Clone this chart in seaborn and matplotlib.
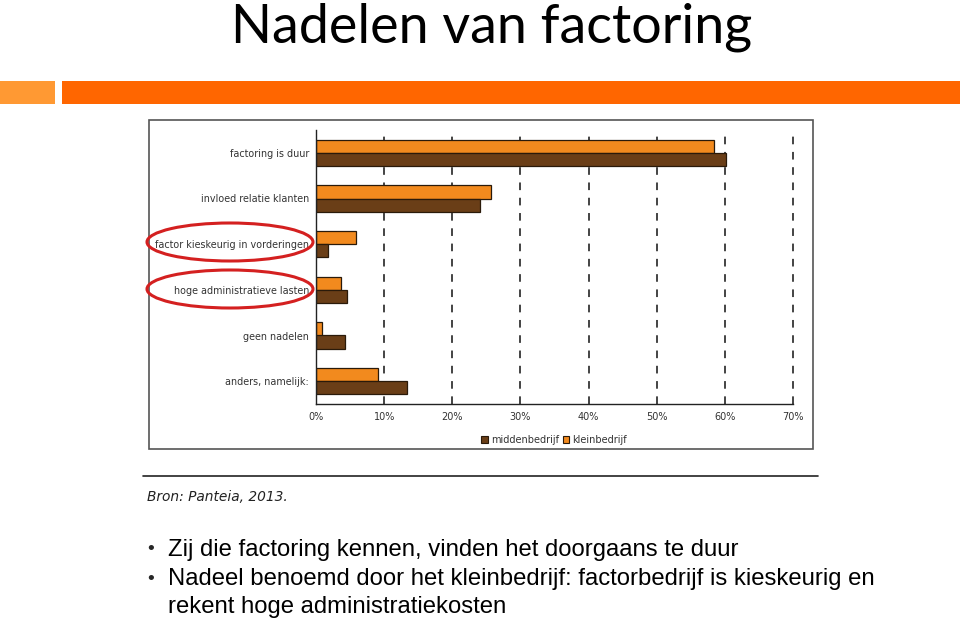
import matplotlib
matplotlib.use("Agg")
import matplotlib.pyplot as plt
import seaborn as sns
import pandas as pd
from matplotlib.patches import Rectangle, Ellipse
from matplotlib.lines import Line2D

categories = ["factoring is duur", "invloed relatie klanten", "factor kieskeurig in vorderingen",
              "hoge administratieve lasten", "geen nadelen", "anders, namelijk:"]
kleinbedrijf = [58.4, 25.7, 5.9, 3.7, 0.9, 9.1]
middenbedrijf = [60.2, 24.0, 1.8, 4.6, 4.2, 13.4]
series = ["kleinbedrijf", "middenbedrijf"]
xticks = [0, 10, 20, 30, 40, 50, 60, 70]
xticklabels = ["0%", "10%", "20%", "30%", "40%", "50%", "60%", "70%"]
title = "Nadelen van factoring"
bullets = ["Zij die factoring kennen, vinden het doorgaans te duur",
           "Nadeel benoemd door het kleinbedrijf: factorbedrijf is kieskeurig en",
           "rekent hoge administratiekosten"]
source = "Bron: Panteia, 2013."

df = pd.DataFrame({
    "categorie": categories * 2,
    "groep": ["kleinbedrijf"] * len(categories) + ["middenbedrijf"] * len(categories),
    "waarde": kleinbedrijf + middenbedrijf,
})

sns.set_theme(style="white")
plt.rcParams["font.family"] = ["DejaVu Sans"]

W, H = 960, 622
fig = plt.figure(figsize=(9.6, 6.22), dpi=100)

def fx(px):
    return px / W

def fy(py):
    return 1 - py / H

# Title
fig.text(fx(492), fy(27), title, ha="center", va="center", fontsize=38.8,
         family=["Lato", "DejaVu Sans"], color="#000000")

# Orange header bars
fig.patches.append(Rectangle((fx(0), fy(104)), fx(55), (104 - 81) / H,
                             transform=fig.transFigure, facecolor="#FF9933", edgecolor="none"))
fig.patches.append(Rectangle((fx(62), fy(104)), fx(898), (104 - 81) / H,
                             transform=fig.transFigure, facecolor="#FF6600", edgecolor="none"))

# Chart frame (behind the axes)
fig.patches.append(Rectangle((fx(149), fy(449)), fx(813 - 149), (449 - 120) / H,
                             transform=fig.transFigure, facecolor="white",
                             edgecolor="#555555", linewidth=1.2, zorder=-1))

ax = fig.add_axes([fx(316), fy(404), fx(793 - 316), (404 - 130) / H])
ax.set_zorder(2)
ax.patch.set_alpha(0)
palette = {"kleinbedrijf": "#F28A1E", "middenbedrijf": "#6A3E17"}
sns.barplot(data=df, y="categorie", x="waarde", hue="groep", order=categories,
            hue_order=series, palette=palette, orient="h", width=0.58,
            edgecolor="#2a1a0a", linewidth=0.9, saturation=1, ax=ax, legend=False)

ax.set_xlim(0, 70)
ax.set_xticks(xticks)
ax.set_xticklabels(xticklabels, fontsize=7, color="#333333")
ax.set_xlabel("")
ax.set_ylabel("")
ax.set_yticks(range(len(categories)))
ax.set_yticklabels(categories, fontsize=6.9, color="#333333")
ax.tick_params(axis="y", length=0, pad=5)
ax.tick_params(axis="x", length=4, width=1, color="#222222", direction="inout", pad=4)
ax.set_yticks([i - 0.5 for i in range(len(categories) + 1)], minor=True)
ax.tick_params(axis="y", which="minor", length=4, width=1, color="#222222", direction="in")
for s in ["top", "right"]:
    ax.spines[s].set_visible(False)
for s in ["left", "bottom"]:
    ax.spines[s].set_color("#222222")
    ax.spines[s].set_linewidth(1)
for xv in xticks[1:]:
    ax.axvline(xv, color="#111111", linestyle=(0, (5, 5)), linewidth=1.1, zorder=0, clip_on=False)
ax.set_axisbelow(True)

# Legend
handles = [Rectangle((0, 0), 1, 1, facecolor=palette["middenbedrijf"], edgecolor="#2a1a0a", linewidth=0.8),
           Rectangle((0, 0), 1, 1, facecolor=palette["kleinbedrijf"], edgecolor="#2a1a0a", linewidth=0.8)]
fig.legend(handles, ["middenbedrijf", "kleinbedrijf"], loc="center", bbox_to_anchor=(fx(554), fy(440)),
           ncol=2, frameon=False, fontsize=7, handlelength=0.7, handleheight=0.7,
           handletextpad=0.3, columnspacing=0.4, labelcolor="#333333")

# Red ellipses
for cy in [242, 289]:
    fig.patches.append(Ellipse((fx(230), fy(cy)), fx(166), 38 / H, transform=fig.transFigure,
                               facecolor="none", edgecolor="#D42020", linewidth=2.2, zorder=5))

# Source line
fig.lines.append(Line2D([fx(143), fx(818)], [fy(476), fy(476)], transform=fig.transFigure,
                        color="#222222", linewidth=1.2))
fig.text(fx(147), fy(497), source, ha="left", va="center", fontsize=9.9, style="italic",
         color="#222222", family=["DejaVu Sans"])

# Bullets
bfont = ["Liberation Sans", "DejaVu Sans"]
for i, (txt, y) in enumerate(zip(bullets, [550, 579, 607])):
    if i < 2:
        fig.text(fx(147), fy(y), "\u2022", ha="left", va="center", fontsize=14, family=bfont)
    fig.text(fx(168), fy(y), txt, ha="left", va="center", fontsize=17.2, family=bfont, color="#000000")

fig.savefig("out.png", dpi=100)
